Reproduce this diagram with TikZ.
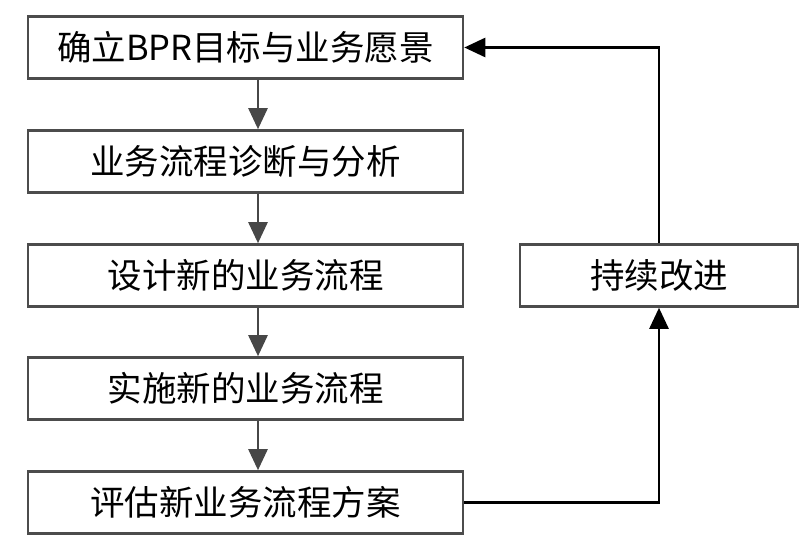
\documentclass[tikz,border=0pt]{standalone}
\usepackage{fontspec}
\setmainfont{Noto Sans CJK SC}
\usetikzlibrary{arrows.meta}
\tikzset{
  stepbox/.style={draw=black!70, line width=2.6pt, fill=white, minimum width=435pt, minimum height=62pt, inner sep=0pt, font=\fontsize{34.5}{40}\selectfont},
  grayarr/.style={draw=black!72, line width=2.6pt, -{Triangle[length=21pt,width=19pt]}},
  blackarr/.style={draw=black, line width=2.6pt, -{Triangle[length=21pt,width=19pt]}}
}
\begin{document}
\begin{tikzpicture}[x=1pt,y=1pt]
\useasboundingbox (0,0) rectangle (808,-548);
\node[stepbox] (b1) at (245.5,-47.5) {确立BPR目标与业务愿景};
\node[stepbox] (b2) at (245.5,-161.5) {业务流程诊断与分析};
\node[stepbox] (b3) at (245.5,-275.5) {设计新的业务流程};
\node[stepbox] (b4) at (245.5,-388.5) {实施新的业务流程};
\node[stepbox] (b5) at (245.5,-502.5) {评估新业务流程方案};
\node[stepbox, minimum width=278pt] (r) at (659,-275.5) {持续改进};
\coordinate (ax) at (258,0);
\draw[grayarr] (b1.south -| ax) -- (b2.north -| ax);
\draw[grayarr] (b2.south -| ax) -- (b3.north -| ax);
\draw[grayarr] (b3.south -| ax) -- (b4.north -| ax);
\draw[grayarr] (b4.south -| ax) -- (b5.north -| ax);
\draw[blackarr] (b5.east) -| (r.south);
\draw[blackarr] (r.north) |- (b1.east);
\end{tikzpicture}
\end{document}
